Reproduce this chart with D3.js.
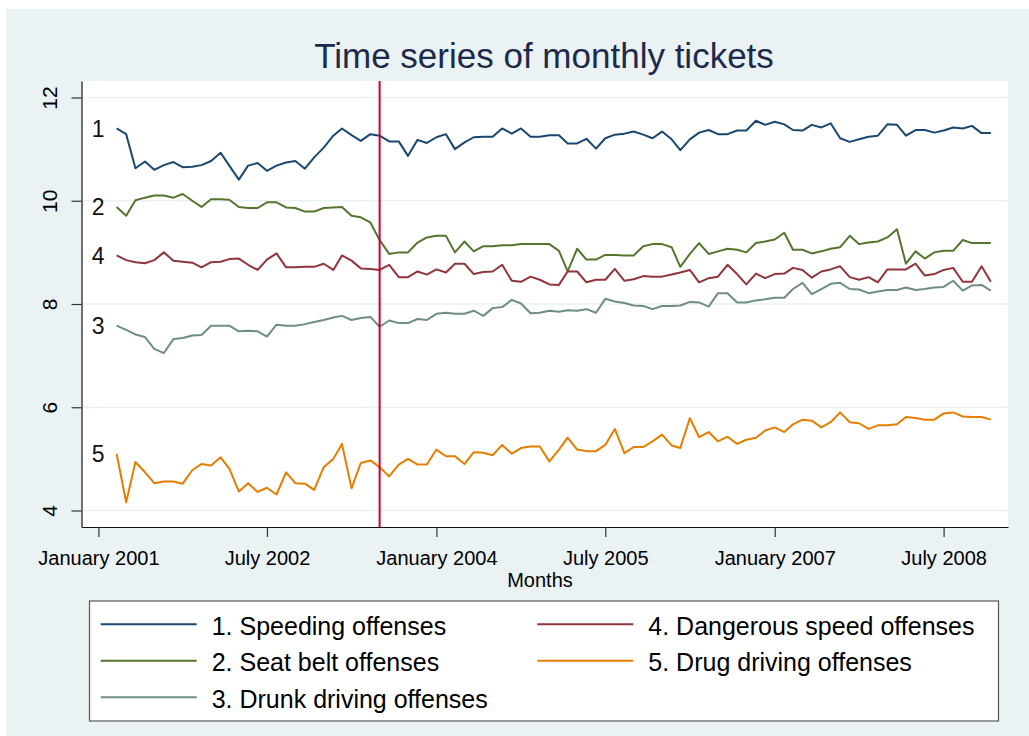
<!DOCTYPE html>
<html>
<head>
<meta charset="utf-8">
<script src="https://cdn.jsdelivr.net/npm/d3@7"></script>
<style>
  body { margin: 0; background: #fff; }
  text { font-family: "Liberation Sans", Arial, sans-serif; }
</style>
</head>
<body>
<script>
// data, one value per month, March 2001 .. December 2008
var firstMonth = new Date(Date.UTC(2001, 2, 1));
var lastMonth = new Date(Date.UTC(2008, 11, 1));

var speeding = [11.40, 11.29, 10.63, 10.76, 10.60, 10.69, 10.75, 10.65, 10.66, 10.69,
  10.77, 10.93, 10.68, 10.41, 10.68, 10.73, 10.58, 10.68, 10.74, 10.77,
  10.62, 10.84, 11.03, 11.26, 11.40, 11.27, 11.16, 11.29, 11.26, 11.15,
  11.15, 10.87, 11.18, 11.12, 11.23, 11.29, 11.00, 11.13, 11.23, 11.24,
  11.24, 11.40, 11.30, 11.40, 11.24, 11.24, 11.27, 11.27, 11.11, 11.11,
  11.20, 11.01, 11.21, 11.28, 11.30, 11.34, 11.28, 11.21, 11.34, 11.19,
  10.98, 11.19, 11.32, 11.37, 11.29, 11.29, 11.36, 11.36, 11.55, 11.47,
  11.53, 11.48, 11.37, 11.36, 11.47, 11.42, 11.50, 11.21, 11.14, 11.19,
  11.24, 11.26, 11.48, 11.47, 11.26, 11.37, 11.37, 11.32, 11.36, 11.42,
  11.40, 11.45, 11.31, 11.31];

var seatBelt = [9.88, 9.71, 10.01, 10.06, 10.10, 10.10, 10.06, 10.13, 10.00, 9.88,
  10.03, 10.03, 10.02, 9.88, 9.86, 9.86, 9.97, 9.97, 9.87, 9.86,
  9.79, 9.79, 9.86, 9.87, 9.88, 9.71, 9.68, 9.58, 9.24, 8.97,
  9.00, 9.00, 9.19, 9.29, 9.32, 9.32, 9.00, 9.21, 9.02, 9.12,
  9.12, 9.14, 9.14, 9.16, 9.16, 9.16, 9.16, 9.03, 8.63, 9.07,
  8.86, 8.86, 8.95, 8.95, 8.94, 8.94, 9.12, 9.16, 9.16, 9.10,
  8.72, 8.97, 9.18, 8.97, 9.02, 9.07, 9.05, 9.00, 9.18, 9.21,
  9.25, 9.38, 9.05, 9.05, 8.98, 9.02, 9.07, 9.10, 9.32, 9.16,
  9.19, 9.21, 9.29, 9.45, 8.78, 9.02, 8.88, 9.00, 9.03, 9.03,
  9.24, 9.18, 9.18, 9.18];

var drunk = [7.58, 7.50, 7.41, 7.36, 7.13, 7.05, 7.32, 7.34, 7.39, 7.40,
  7.58, 7.58, 7.58, 7.47, 7.48, 7.47, 7.37, 7.60, 7.58, 7.58,
  7.61, 7.65, 7.69, 7.74, 7.77, 7.69, 7.73, 7.75, 7.56, 7.68,
  7.63, 7.63, 7.71, 7.69, 7.81, 7.83, 7.81, 7.81, 7.87, 7.77,
  7.92, 7.94, 8.08, 8.01, 7.82, 7.83, 7.87, 7.85, 7.88, 7.87,
  7.90, 7.83, 8.10, 8.05, 8.02, 7.97, 7.96, 7.90, 7.96, 7.96,
  7.97, 8.04, 8.03, 7.95, 8.21, 8.21, 8.03, 8.03, 8.07, 8.09,
  8.12, 8.12, 8.29, 8.41, 8.19, 8.29, 8.39, 8.41, 8.29, 8.28,
  8.21, 8.24, 8.27, 8.27, 8.32, 8.27, 8.29, 8.32, 8.33, 8.45,
  8.26, 8.36, 8.37, 8.26];

var dangerous = [8.94, 8.85, 8.81, 8.79, 8.85, 9.00, 8.84, 8.82, 8.80, 8.71,
  8.81, 8.82, 8.87, 8.88, 8.76, 8.66, 8.86, 8.98, 8.71, 8.71,
  8.72, 8.72, 8.78, 8.66, 8.94, 8.84, 8.69, 8.68, 8.66, 8.76,
  8.52, 8.52, 8.63, 8.57, 8.67, 8.61, 8.78, 8.78, 8.58, 8.62,
  8.63, 8.76, 8.45, 8.43, 8.53, 8.47, 8.38, 8.37, 8.63, 8.63,
  8.42, 8.47, 8.47, 8.68, 8.45, 8.48, 8.54, 8.53, 8.53, 8.57,
  8.61, 8.66, 8.42, 8.50, 8.53, 8.76, 8.58, 8.38, 8.59, 8.50,
  8.58, 8.59, 8.70, 8.66, 8.51, 8.63, 8.67, 8.73, 8.52, 8.47,
  8.52, 8.42, 8.67, 8.67, 8.67, 8.78, 8.55, 8.58, 8.66, 8.70,
  8.43, 8.43, 8.73, 8.43];

var drug = [5.10, 4.16, 4.94, 4.74, 4.53, 4.56, 4.56, 4.52, 4.78, 4.90,
  4.87, 5.03, 4.81, 4.37, 4.53, 4.36, 4.44, 4.31, 4.74, 4.53,
  4.52, 4.40, 4.84, 5.00, 5.29, 4.43, 4.92, 4.97, 4.84, 4.66,
  4.89, 5.00, 4.89, 4.89, 5.18, 5.05, 5.05, 4.90, 5.13, 5.12,
  5.07, 5.27, 5.10, 5.21, 5.24, 5.24, 4.95, 5.18, 5.41, 5.18,
  5.15, 5.15, 5.27, 5.58, 5.11, 5.23, 5.23, 5.34, 5.47, 5.26,
  5.21, 5.79, 5.42, 5.52, 5.34, 5.43, 5.29, 5.37, 5.41, 5.55,
  5.61, 5.52, 5.67, 5.76, 5.74, 5.61, 5.71, 5.90, 5.71, 5.69,
  5.58, 5.65, 5.65, 5.67, 5.81, 5.79, 5.76, 5.76, 5.88, 5.90,
  5.82, 5.81, 5.81, 5.76];

var seriesNames = ["1. Speeding offenses", "2. Seat belt offenses", "3. Drunk driving offenses",
  "4. Dangerous speed offenses", "5. Drug driving offenses"];
var seriesValues = [speeding, seatBelt, drunk, dangerous, drug];

var yTicks = [4, 6, 8, 10, 12];
var xTicks = [new Date(Date.UTC(2001, 0, 1)), new Date(Date.UTC(2002, 6, 1)), new Date(Date.UTC(2004, 0, 1)),
  new Date(Date.UTC(2005, 6, 1)), new Date(Date.UTC(2007, 0, 1)), new Date(Date.UTC(2008, 6, 1))];
var xTickLabels = ["January 2001", "July 2002", "January 2004", "July 2005", "January 2007", "July 2008"];
var eventMonth = new Date(Date.UTC(2003, 6, 1));

var months = d3.utcMonth.range(firstMonth, d3.utcMonth.offset(lastMonth, 1));

// styles
var colors = ["#1a476f", "#55752f", "#6e8e84", "#90353b", "#e37e00"];
var width = 1029, height = 736;
var plot = {left: 81.5, right: 1008, top: 81, bottom: 527};

var svg = d3.select("body")
  .append("svg")
  .attr("width", width)
  .attr("height", height);

// background
svg.append("rect")
  .attr("x", 6).attr("y", 9)
  .attr("width", width - 6).attr("height", height - 9)
  .attr("fill", "#eaf2f3");

svg.append("rect")
  .attr("x", plot.left).attr("y", plot.top)
  .attr("width", plot.right - plot.left).attr("height", plot.bottom - plot.top)
  .attr("fill", "#fff");

// scales: fit the tick positions, then stretch over the plot region
var x = d3.scaleUtc()
  .domain([xTicks[0], xTicks[xTicks.length - 1]])
  .range([98.4, 943.6]);
x.domain([x.invert(plot.left), x.invert(plot.right)]).range([plot.left, plot.right]);

var y = d3.scaleLinear()
  .domain([4, 12])
  .range([510.5, 97.5]);
y.domain([y.invert(plot.bottom), y.invert(plot.top)]).range([plot.bottom, plot.top]);

// grid
svg.append("g")
  .selectAll("line")
  .data(yTicks)
  .enter()
  .append("line")
  .attr("x1", plot.left).attr("x2", plot.right)
  .attr("y1", function(d) { return y(d); })
  .attr("y2", function(d) { return y(d); })
  .attr("stroke", "#eaf2f3")
  .attr("stroke-width", 1.5);

// y axis
var yAxis = svg.append("g")
  .attr("transform", "translate(" + plot.left + ",0)")
  .call(d3.axisLeft(y).tickValues(yTicks).tickSize(10).tickSizeOuter(0));
yAxis.select(".domain").attr("stroke", "#111").attr("stroke-width", 1.2);
yAxis.selectAll(".tick line").attr("stroke", "#333").attr("stroke-width", 1.2);
yAxis.selectAll(".tick text")
  .attr("x", null).attr("dy", null)
  .attr("transform", "translate(-25,0) rotate(-90)")
  .attr("text-anchor", "middle")
  .attr("fill", "#000")
  .style("font-size", "21px");

// x axis
var xAxis = svg.append("g")
  .attr("transform", "translate(0," + plot.bottom + ")")
  .call(d3.axisBottom(x).tickValues(xTicks).tickSize(10).tickSizeOuter(0)
    .tickFormat(function(d, i) { return xTickLabels[i]; }));
xAxis.select(".domain").attr("stroke", "#111").attr("stroke-width", 1.2);
xAxis.selectAll(".tick line").attr("stroke", "#333").attr("stroke-width", 1.2);
xAxis.selectAll(".tick text")
  .attr("y", 38).attr("dy", null)
  .attr("fill", "#000")
  .style("font-size", "20px");

svg.append("text")
  .attr("x", 540).attr("y", 587)
  .attr("text-anchor", "middle")
  .style("font-size", "20px")
  .text("Months");

// title
svg.append("text")
  .attr("x", 544).attr("y", 68)
  .attr("text-anchor", "middle")
  .attr("fill", "#1c2a4b")
  .style("font-size", "35px")
  .text("Time series of monthly tickets");

// series lines
var line = d3.line()
  .x(function(d, i) { return x(months[i]); })
  .y(function(d) { return y(d); });

svg.append("g")
  .selectAll("path")
  .data(seriesValues)
  .enter()
  .append("path")
  .attr("d", line)
  .attr("fill", "none")
  .attr("stroke", function(d, i) { return colors[i]; })
  .attr("stroke-width", 2)
  .attr("stroke-linejoin", "round");

// number labels at the first point
svg.append("g")
  .selectAll("text")
  .data(seriesValues)
  .enter()
  .append("text")
  .attr("x", x(months[0]) - 12)
  .attr("y", function(d) { return y(d[0]); })
  .attr("dy", "0.36em")
  .attr("text-anchor", "end")
  .attr("fill", "#111")
  .style("font-size", "23px")
  .text(function(d, i) { return seriesNames[i].split(".")[0]; });

// event line
svg.append("line")
  .attr("x1", x(eventMonth)).attr("x2", x(eventMonth))
  .attr("y1", plot.top).attr("y2", plot.bottom)
  .attr("stroke", "#c10534")
  .attr("stroke-width", 2);

// legend
svg.append("rect")
  .attr("x", 89.5).attr("y", 601)
  .attr("width", 909).attr("height", 120)
  .attr("fill", "#fff")
  .attr("stroke", "#555")
  .attr("stroke-width", 1.2);

var legend = svg.append("g")
  .selectAll("g")
  .data(seriesNames)
  .enter()
  .append("g")
  .attr("transform", function(d, i) {
    var col = Math.floor(i / 3), row = i % 3;
    return "translate(" + (col === 0 ? 100.7 : 537.3) + "," + (624.3 + row * 36.5) + ")";
  });

legend.append("line")
  .attr("x1", 0).attr("x2", 96)
  .attr("stroke", function(d, i) { return colors[i]; })
  .attr("stroke-width", 2);

legend.append("text")
  .attr("x", 111)
  .attr("y", 10.5)
  .attr("fill", "#000")
  .style("font-size", "25px")
  .text(function(d) { return d; });
</script>
</body>
</html>
